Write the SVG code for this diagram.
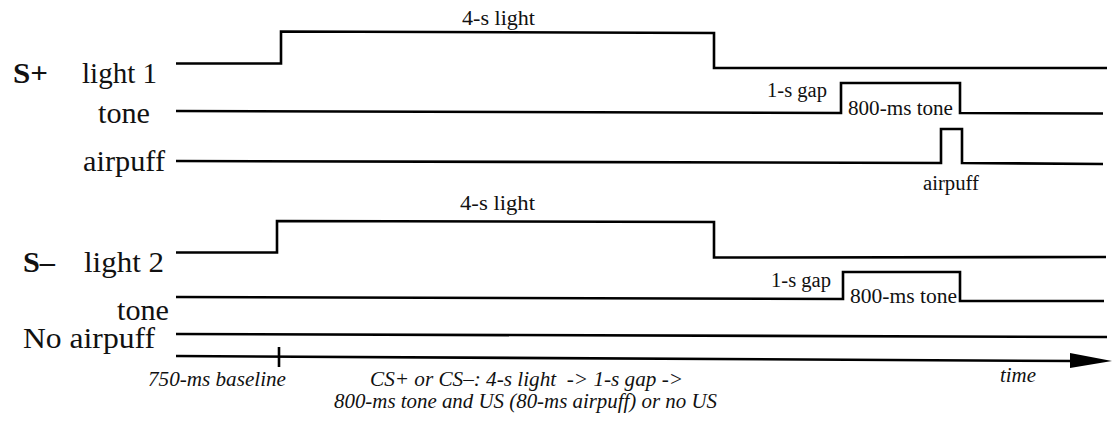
<svg xmlns="http://www.w3.org/2000/svg" width="1112" height="424" viewBox="0 0 1112 424">
<style>
.sig{fill:none;stroke:#000;stroke-width:2.6;stroke-linejoin:miter}
.lab{font-family:'Liberation Serif','Times New Roman','DejaVu Serif',serif;font-size:29px;fill:#111}
.big{font-family:'Liberation Serif','Times New Roman','DejaVu Serif',serif;font-size:29px;font-weight:bold;fill:#111}
.sm{font-family:'Liberation Serif','Times New Roman','DejaVu Serif',serif;font-size:20px;fill:#111}
.it{font-family:'Liberation Serif','Times New Roman','DejaVu Serif',serif;font-size:20px;font-style:italic;fill:#111}
</style>
<rect width="1112" height="424" fill="#fff"/>
<g id="labels">
<text class="big" x="13" y="83" textLength="35" lengthAdjust="spacingAndGlyphs">S+</text>
<text class="lab" x="82" y="83" textLength="75" lengthAdjust="spacingAndGlyphs">light 1</text>
<text class="lab" x="98" y="123" textLength="52" lengthAdjust="spacingAndGlyphs">tone</text>
<text class="lab" x="83" y="171" textLength="82" lengthAdjust="spacingAndGlyphs">airpuff</text>
<text class="big" x="23" y="272" textLength="32" lengthAdjust="spacingAndGlyphs">S–</text>
<text class="lab" x="84" y="272" textLength="80" lengthAdjust="spacingAndGlyphs">light 2</text>
<text class="lab" x="117" y="320" textLength="52" lengthAdjust="spacingAndGlyphs">tone</text>
<text class="lab" x="23" y="348" textLength="132" lengthAdjust="spacingAndGlyphs">No airpuff</text>
</g>
<g id="connectors">
<polyline id="light1" class="sig" points="176,63.5 281,63.5 281,31.5 714,33 714,68 1107,68"/>
<polyline id="tone1" class="sig" points="176,111 841,113 841,83 960,83 960,113 1103,113.5"/>
<polyline id="airpuff1" class="sig" points="176,161 941,163 941,129 962,129 962,163 1103,164"/>
<polyline id="light2" class="sig" points="176,252.5 277,252.5 277,221 714,222 714,257.5 1106,257"/>
<polyline id="tone2" class="sig" points="176,297 843,299 843,272 960,272 960,301 1104,301"/>
<polyline id="noairpuff" class="sig" points="176,334 1107,337"/>
<polyline id="timeaxis" class="sig" points="176,356 1074,361"/>
<polygon points="1070,353 1112,361 1070,368" fill="#000"/>
<line x1="279" y1="347" x2="279" y2="367" stroke="#000" stroke-width="2.6"/>
</g>
<g id="annotations">
<text class="sm" x="462" y="25" textLength="73" lengthAdjust="spacingAndGlyphs">4-s  light</text>
<text class="sm" x="767" y="97" textLength="60" lengthAdjust="spacingAndGlyphs">1-s gap</text>
<text class="sm" x="848" y="115" textLength="105" lengthAdjust="spacingAndGlyphs">800-ms tone</text>
<text class="sm" x="923" y="190" textLength="56" lengthAdjust="spacingAndGlyphs">airpuff</text>
<text class="sm" x="460" y="210" textLength="75" lengthAdjust="spacingAndGlyphs">4-s  light</text>
<text class="sm" x="771" y="287" textLength="60" lengthAdjust="spacingAndGlyphs">1-s gap</text>
<text class="sm" x="850" y="303" textLength="107" lengthAdjust="spacingAndGlyphs">800-ms tone</text>
<text class="it" x="148" y="386" textLength="138" lengthAdjust="spacingAndGlyphs">750-ms baseline</text>
<text class="it" x="370" y="386" textLength="313" lengthAdjust="spacingAndGlyphs" xml:space="preserve">CS+ or CS–: 4-s light  -&gt; 1-s gap -&gt;</text>
<text class="it" x="334" y="408" textLength="383" lengthAdjust="spacingAndGlyphs">800-ms tone and US (80-ms airpuff) or no US</text>
<text class="it" x="1000" y="382" textLength="36" lengthAdjust="spacingAndGlyphs">time</text>
</g>
</svg>
